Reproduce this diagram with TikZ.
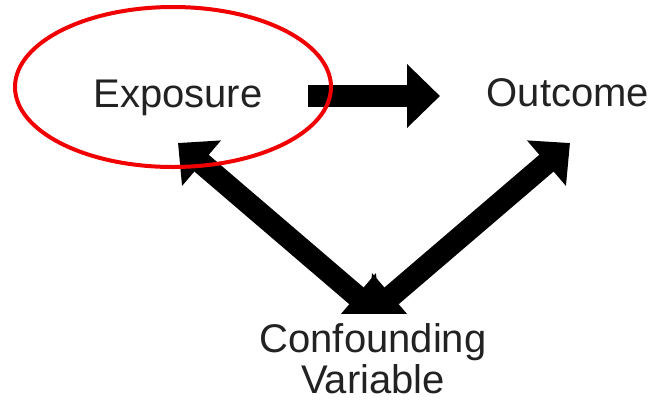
\documentclass[tikz,border=0pt]{standalone}
\usepackage{fontspec}
\setmainfont{Liberation Sans}
\usetikzlibrary{arrows.meta}
\definecolor{txt}{HTML}{222222}
\definecolor{ring}{HTML}{F00000}
\tikzset{
  lbl/.style={text=txt, font=\fontsize{40}{41}\selectfont, inner sep=0pt},
  blockarrow/.style={line width=22pt, draw=black, -{Triangle[length=33pt,width=62pt]}},
  blockdouble/.style={line width=22pt, draw=black, {Triangle[length=31pt,width=58pt]}-{Triangle[length=31pt,width=58pt]}},
  ringstyle/.style={draw=ring, line width=4pt}
}
\begin{document}
\begin{tikzpicture}[x=1pt,y=-1pt]
\useasboundingbox (0,0) rectangle (658,400);
\node[lbl, anchor=base] (exp) at (178,107) {Exposure};
\node[lbl, anchor=base] (out) at (568,106) {Outcome};
\node[lbl, anchor=base, align=center] (conf) at (373,393) {Confounding\\Variable};
\coordinate (h1) at (308,96);
\coordinate (h2) at (440,96);
\coordinate (l1) at (178,143);
\coordinate (l2) at (380,316);
\coordinate (r1) at (570,143);
\coordinate (r2) at (368,316);
\draw[blockarrow] (h1) -- (h2);
\begin{scope}
\clip (0,0) rectangle (658,313);
\draw[blockdouble] (l1) -- (l2);
\draw[blockdouble] (r1) -- (r2);
\end{scope}
\draw[ringstyle] (173,87) ellipse [x radius=158, y radius=80];
\end{tikzpicture}
\end{document}
